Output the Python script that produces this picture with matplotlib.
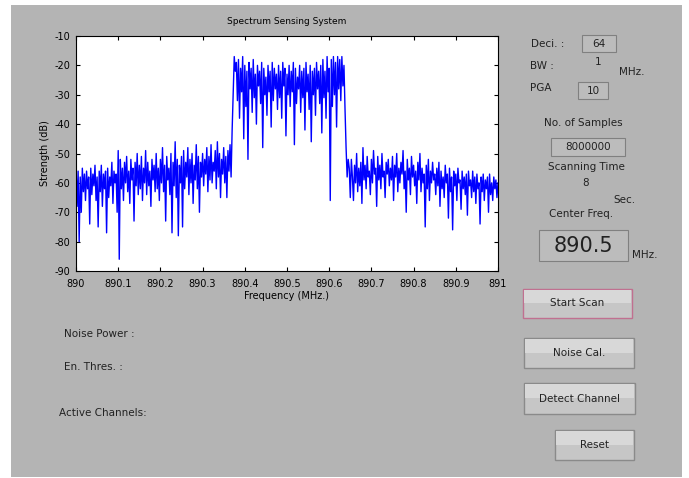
import numpy as np
import matplotlib
matplotlib.use("Agg")
import matplotlib.pyplot as plt
from matplotlib.patches import Rectangle

plt.rcParams["axes.unicode_minus"] = False

# spectrum (dB), evenly spaced from 890 to 891 MHz
strength = [
    -54, -68, -56, -80, -58, -70, -55, -63, -57, -66, -56, -62, -58, -74, -55, -64, -57, -61, -54, -66,
    -58, -75, -56, -63, -54, -68, -57, -62, -56, -77, -55, -65, -58, -61, -53, -67, -56, -60, -57, -70,
    -49, -86, -52, -62, -55, -66, -53, -60, -51, -63, -56, -67, -52, -59, -55, -73, -53, -61, -50, -64,
    -54, -62, -51, -66, -55, -60, -49, -64, -53, -61, -56, -68, -52, -59, -54, -63, -50, -62, -55, -66,
    -52, -60, -48, -63, -54, -73, -51, -59, -55, -64, -50, -77, -53, -61, -46, -65, -52, -78, -54, -60,
    -51, -75, -49, -62, -53, -58, -48, -64, -52, -60, -50, -67, -54, -59, -47, -62, -51, -70, -53, -58,
    -50, -61, -52, -57, -48, -63, -51, -59, -47, -60, -53, -56, -49, -62, -46, -58, -50, -65, -52, -57,
    -48, -60, -51, -65, -49, -56, -47, -58,
    -42, -30, -17, -22,
    -19, -32, -18, -38, -21, -29, -17, -45, -20, -34, -22, -52, -19, -28, -21, -36, -18, -31, -23, -40,
    -20, -27, -22, -33, -19, -48, -21, -30, -24, -37, -20, -29, -22, -41, -19, -32, -21, -28, -23, -35,
    -20, -31, -22, -38, -19, -27, -21, -44, -23, -30, -20, -34, -22, -29, -19, -47, -21, -33, -24, -28,
    -20, -36, -22, -31, -21, -42, -19, -29, -23, -35, -20, -46, -22, -30, -21, -37, -19, -28, -22, -33,
    -20, -43, -18, -31, -22, -38, -17, -29, -21, -66, -18, -34, -17, -30, -19, -41, -17, -28, -18, -32,
    -17, -27, -20,
    -35, -48, -58, -52,
    -55, -65, -52, -58, -66, -54, -60, -50, -63, -55, -61, -53, -67, -48, -59, -54, -62, -51, -58, -56,
    -64, -52, -60, -49, -57, -55, -68, -51, -59, -54, -62, -50, -58, -56, -65, -53, -57, -52, -61, -55,
    -59, -51, -66, -54, -58, -50, -63, -55, -60, -53, -57, -49, -62, -56, -70, -52, -59, -55, -64, -51,
    -58, -54, -61, -56, -67, -53, -59, -50, -63, -55, -60, -57, -75, -54, -62, -52, -66, -56, -60, -53,
    -59, -57, -64, -55, -61, -53, -68, -56, -62, -58, -65, -54, -60, -57, -72, -55, -63, -58, -76, -56,
    -61, -57, -66, -55, -60, -59, -69, -56, -62, -58, -64, -57, -71, -56, -61, -59, -65, -56, -63, -58,
    -67, -57, -62, -60, -74, -58, -63, -57, -66, -59, -62, -58, -70, -57, -64, -60, -66, -58, -62,
    -59, -65, -60,
]
f_start, f_stop = 890.0, 891.0
xticks = [890, 890.1, 890.2, 890.3, 890.4, 890.5, 890.6, 890.7, 890.8, 890.9, 891]
xticklabels = ["890", "890.1", "890.2", "890.3", "890.4", "890.5", "890.6", "890.7", "890.8", "890.9", "891"]
yticks = [-90, -80, -70, -60, -50, -40, -30, -20, -10]

W, H = 689, 478
fig = plt.figure(figsize=(W / 100, H / 100), dpi=100)
fig.patch.set_facecolor("white")

# background "window" drawn in pixel coordinates
bg = fig.add_axes([0, 0, 1, 1])
bg.set_xlim(0, W)
bg.set_ylim(H, 0)
bg.axis("off")
gray = "#b4b4b4"
bg.add_patch(Rectangle((11, 5), 671, 472, facecolor=gray, edgecolor="none"))

def box(x, y, w, h, txt, fs=7.5):
    bg.add_patch(Rectangle((x, y), w, h, facecolor="#bcbcbc", edgecolor="#808080", lw=0.8))
    bg.text(x + w / 2, y + h / 2, txt, ha="center", va="center", fontsize=fs, color="#222222")

def button(x, y, w, h, txt, ec="#8a8a8a"):
    bg.add_patch(Rectangle((x, y), w, h, facecolor="#c6c6c6", edgecolor=ec, lw=1.0))
    bg.add_patch(Rectangle((x + 1, y + 1), w - 2, h * 0.45, facecolor="#d8d8d8", edgecolor="none"))
    bg.text(x + w / 2, y + h / 2, txt, ha="center", va="center", fontsize=7.5, color="#222222")

lab = dict(fontsize=7.5, color="#222222", va="center")
bg.text(531, 44, "Deci. :", **lab)
box(582, 35, 34, 17, "64")
bg.text(530, 66, "BW :", **lab)
bg.text(598, 62, "1", ha="center", fontsize=7.5, color="#222222", va="center")
bg.text(619, 72, "MHz.", **lab)
bg.text(530, 88, "PGA", **lab)
box(578, 82, 30, 17, "10")
bg.text(583, 123, "No. of Samples", ha="center", fontsize=7.5, color="#222222", va="center")
box(551, 138, 74, 18, "8000000")
bg.text(586, 167, "Scanning Time", ha="center", fontsize=7.5, color="#222222", va="center")
bg.text(586, 183, "8", ha="center", fontsize=7.5, color="#222222", va="center")
bg.text(624, 200, "Sec.", ha="center", fontsize=7.5, color="#222222", va="center")
bg.text(581, 214, "Center Freq.", ha="center", fontsize=7.5, color="#222222", va="center")
box(539, 230, 89, 31, "890.5", fs=15)
bg.text(632, 255, "MHz.", **lab)

button(523, 289, 109, 29, "Start Scan", ec="#c07090")
button(524, 338, 110, 30, "Noise Cal.")
button(524, 383, 111, 31, "Detect Channel")
button(555, 430, 79, 30, "Reset")

bg.text(64, 334, "Noise Power :", **lab)
bg.text(64, 367, "En. Thres. :", **lab)
bg.text(59, 413, "Active Channels:", **lab)

# spectrum axes
ax = fig.add_axes([76 / W, 1 - 271 / H, 422 / W, 235 / H])
freq = np.linspace(f_start, f_stop, len(strength))
ax.plot(freq, strength, color="#0000ff", lw=1.0)
ax.set_xlim(f_start, f_stop)
ax.set_ylim(-90, -10)
ax.set_xticks(xticks)
ax.set_xticklabels(xticklabels)
ax.set_yticks(yticks)
ax.tick_params(direction="in", length=3, labelsize=7, top=True, right=True)
ax.tick_params(axis="x", pad=6)
ax.tick_params(axis="y", pad=4)
for s in ax.spines.values():
    s.set_linewidth(0.8)
ax.set_title("Spectrum Sensing System", fontsize=6.5, pad=9)
ax.set_xlabel("Frequency (MHz.)", fontsize=7, labelpad=1)
ax.set_ylabel("Strength (dB)", fontsize=7, labelpad=3)

fig.savefig("out.png", dpi=100)
